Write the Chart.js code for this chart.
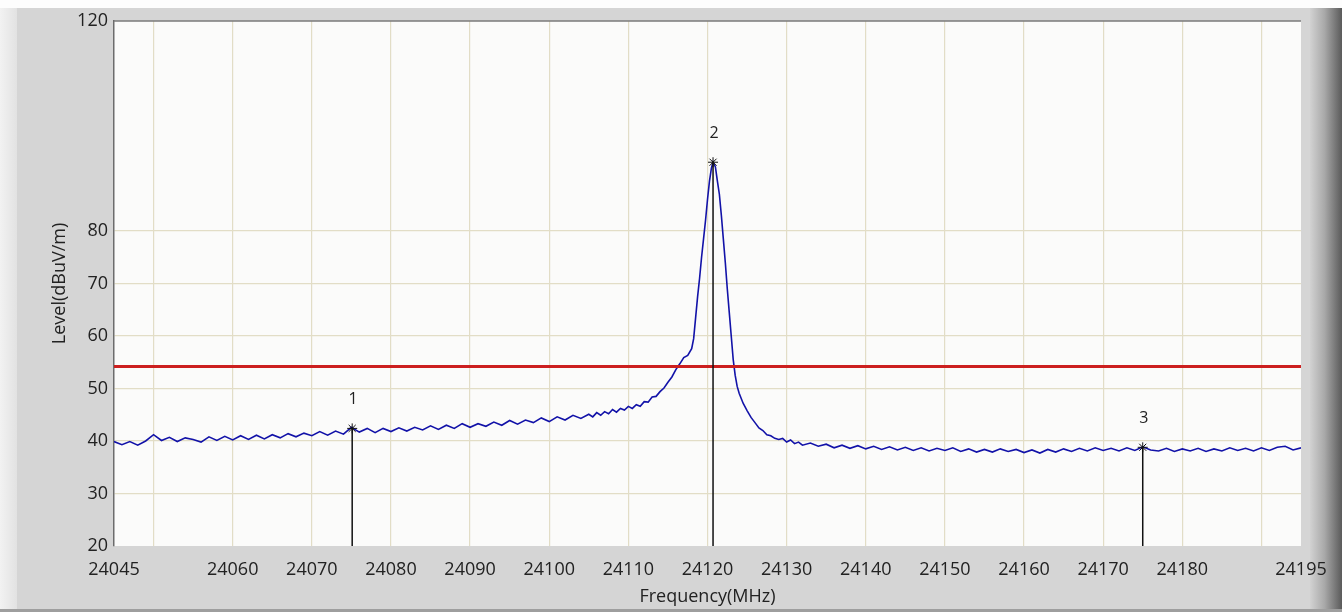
<!DOCTYPE html>
<html>
<head>
<meta charset="utf-8">
<script src="https://cdn.jsdelivr.net/npm/chart.js@4"></script>
<style>
  html, body { margin: 0; padding: 0; background: #d5d5d5; }
  #frame { position: relative; width: 1342px; height: 612px; background: #d5d5d5; overflow: hidden; }
  #frame .top { position: absolute; left: 0; top: 0; width: 1342px; height: 8px; background: #fdfdfd; }
  #frame .left { position: absolute; left: 0; top: 8px; width: 17px; height: 604px; background: linear-gradient(to right, #f2f2f2, #e2e2e2); }
  #frame .right { position: absolute; right: 0; top: 8px; width: 32px; height: 604px; background: linear-gradient(to right, #d2d2d2, #a9a9a9 45%, #5a5a5a); }
  #frame .bottom { position: absolute; left: 0; bottom: 0; width: 1342px; height: 3px; background: #9e9e9e; }
  #frame canvas { position: absolute; left: 0; top: 0; }
</style>
</head>
<body>
<div id="frame">
  <div class="top"></div>
  <div class="left"></div>
  <div class="right"></div>
  <div class="bottom"></div>
  <canvas id="spectrum" width="1342" height="612"></canvas>
</div>
<script>
const freqMHz = [
  24045, 24046, 24047, 24048, 24049, 24050, 24051, 24052, 24053, 24054,
  24055, 24056, 24057, 24058, 24059, 24060, 24061, 24062, 24063, 24064,
  24065, 24066, 24067, 24068, 24069, 24070, 24071, 24072, 24073, 24074,
  24075, 24076, 24077, 24078, 24079, 24080, 24081, 24082, 24083, 24084,
  24085, 24086, 24087, 24088, 24089, 24090, 24091, 24092, 24093, 24094,
  24095, 24096, 24097, 24098, 24099, 24100, 24101, 24102, 24103, 24104,
  24105, 24105.5, 24106, 24106.5, 24107, 24107.5, 24108, 24108.5, 24109, 24109.5,
  24110, 24110.5, 24111, 24111.5, 24112, 24112.5, 24113, 24113.5, 24114, 24114.5,
  24115, 24115.5, 24116, 24116.5, 24117, 24117.5, 24118, 24118.25, 24118.5, 24118.75,
  24119, 24119.25, 24119.5, 24119.75, 24120, 24120.25, 24120.5, 24120.7, 24121, 24121.25,
  24121.5, 24121.75, 24122, 24122.25, 24122.5, 24122.75, 24123, 24123.25, 24123.5, 24123.75,
  24124, 24124.5, 24125, 24125.5, 24126, 24126.5, 24127, 24127.5, 24128, 24128.5,
  24129, 24129.5, 24130, 24130.5, 24131, 24131.5, 24132, 24133, 24134, 24135,
  24136, 24137, 24138, 24139, 24140, 24141, 24142, 24143, 24144, 24145,
  24146, 24147, 24148, 24149, 24150, 24151, 24152, 24153, 24154, 24155,
  24156, 24157, 24158, 24159, 24160, 24161, 24162, 24163, 24164, 24165,
  24166, 24167, 24168, 24169, 24170, 24171, 24172, 24173, 24174, 24175,
  24176, 24177, 24178, 24179, 24180, 24181, 24182, 24183, 24184, 24185,
  24186, 24187, 24188, 24189, 24190, 24191, 24192, 24193, 24194, 24195
];
const levelDb = [
  39.9, 39.3, 39.9, 39.2, 40.0, 41.2, 40.1, 40.7, 39.9, 40.6,
  40.3, 39.8, 40.8, 40.1, 40.9, 40.2, 41.0, 40.3, 41.1, 40.4,
  41.2, 40.6, 41.4, 40.8, 41.5, 41.0, 41.8, 41.1, 41.9, 41.3,
  42.6, 41.7, 42.4, 41.6, 42.4, 41.8, 42.5, 41.9, 42.6, 42.1,
  42.9, 42.2, 43.0, 42.4, 43.3, 42.6, 43.3, 42.8, 43.6, 43.0,
  43.9, 43.2, 44.0, 43.5, 44.4, 43.7, 44.6, 44.0, 44.9, 44.3,
  45.1, 44.6, 45.4, 44.9, 45.6, 45.2, 46.0, 45.5, 46.2, 45.9,
  46.6, 46.2, 46.9, 46.6, 47.5, 47.4, 48.4, 48.5, 49.4, 50.1,
  51.2, 52.2, 53.6, 54.7, 55.9, 56.3, 57.6, 59.5, 63.5, 67.5,
  71.0, 75.0, 78.5, 82.0, 86.0, 89.5, 92.0, 93.1, 92.2, 89.5,
  87.0, 83.0, 78.5, 74.0, 69.0, 64.5, 60.0, 55.5, 52.5, 50.4,
  49.1, 47.2, 45.8, 44.5, 43.5, 42.5, 42.0, 41.2, 41.0, 40.5,
  40.3, 40.5, 39.8, 40.2, 39.5, 39.8, 39.2, 39.6, 39.0, 39.4,
  38.7, 39.2, 38.6, 39.1, 38.5, 39.0, 38.4, 38.9, 38.3, 38.8,
  38.2, 38.7, 38.1, 38.6, 38.2, 38.7, 38.0, 38.5, 37.9, 38.4,
  37.9, 38.5, 38.0, 38.4, 37.8, 38.3, 37.7, 38.4, 37.9, 38.5,
  38.0, 38.6, 38.1, 38.7, 38.2, 38.6, 38.1, 38.7, 38.2, 38.9,
  38.3, 38.1, 38.6, 38.0, 38.5, 38.1, 38.6, 38.0, 38.5, 38.1,
  38.7, 38.2, 38.6, 38.1, 38.7, 38.2, 38.8, 39.0, 38.3, 38.7
];

// Linea limite e marker
const limitDb = 54.2;
const markerNames = ['1', '2', '3'];
const markerFreq = [24075.1, 24120.7, 24175.0];
const markerLevel = [42.4, 93.1, 38.8];

// Tick degli assi
const xTicks = [24045, 24050, 24060, 24070, 24080, 24090, 24100, 24110, 24120,
  24130, 24140, 24150, 24160, 24170, 24180, 24190, 24195];
const xHiddenLabels = [24050, 24190];
const yTicks = [20, 30, 40, 50, 60, 70, 80, 120];

const X_MIN = 24045, X_MAX = 24195, Y_MIN = 20, Y_MAX = 120;

Chart.defaults.font.family = '"Open Sans", "Noto Sans", sans-serif';
Chart.defaults.font.size = 18;
Chart.defaults.color = '#222';

// Sfondo area grafico + bordo superiore
const plotBackground = {
  id: 'plotBackground',
  beforeDraw(chart) {
    const { ctx, chartArea: a } = chart;
    ctx.save();
    ctx.fillStyle = '#fbfbfa';
    ctx.fillRect(a.left, a.top, a.right - a.left, a.bottom - a.top);
    ctx.restore();
  },
  afterDraw(chart) {
    const { ctx, chartArea: a } = chart;
    ctx.save();
    ctx.strokeStyle = '#7a7a7a';
    ctx.lineWidth = 1.5;
    ctx.beginPath();
    ctx.moveTo(a.left, a.top);
    ctx.lineTo(a.right, a.top);
    ctx.stroke();
    ctx.restore();
  }
};

// Etichette numeriche dei marker
const markerLabels = {
  id: 'markerLabels',
  afterDatasetsDraw(chart) {
    const { ctx, scales } = chart;
    ctx.save();
    ctx.font = '16px "Open Sans", "Noto Sans", sans-serif';
    ctx.fillStyle = '#222';
    ctx.textAlign = 'center';
    ctx.textBaseline = 'middle';
    markerNames.forEach((name, i) => {
      const px = scales.x.getPixelForValue(markerFreq[i]);
      const py = scales.y.getPixelForValue(markerLevel[i]);
      ctx.fillText(name, px + 1, py - 29);
    });
    ctx.restore();
  }
};

const traceData = freqMHz.map((f, i) => ({ x: f, y: levelDb[i] }));

const markerDatasets = markerNames.map((name, i) => ({
  label: 'Marker ' + name,
  data: [{ x: markerFreq[i], y: markerLevel[i] }, { x: markerFreq[i], y: Y_MIN }],
  showLine: true,
  borderColor: '#111',
  borderWidth: 1.5,
  pointStyle: 'star',
  pointRadius: [5, 0],
  pointBorderColor: '#111',
  pointBorderWidth: 1,
  order: 0
}));

new Chart(document.getElementById('spectrum'), {
  type: 'scatter',
  data: {
    datasets: [
      {
        label: 'Level',
        data: traceData,
        showLine: true,
        borderColor: '#1212a8',
        borderWidth: 1.6,
        pointRadius: 0,
        tension: 0,
        order: 2
      },
      {
        label: 'Limit',
        data: [{ x: X_MIN, y: limitDb }, { x: X_MAX, y: limitDb }],
        showLine: true,
        borderColor: '#cc1f1f',
        borderWidth: 3,
        pointRadius: 0,
        order: 1
      },
      ...markerDatasets
    ]
  },
  options: {
    responsive: false,
    animation: false,
    layout: { padding: { top: 21, right: 41, left: 0, bottom: 0 } },
    plugins: {
      legend: { display: false },
      tooltip: { enabled: false }
    },
    scales: {
      x: {
        type: 'linear',
        min: X_MIN,
        max: X_MAX,
        afterBuildTicks(scale) {
          scale.ticks = xTicks.map(v => ({ value: v }));
        },
        afterFit(scale) { scale.height = 66; },
        ticks: {
          autoSkip: false,
          maxRotation: 0,
          minRotation: 0,
          padding: 13,
          color: '#222',
          callback: v => (xHiddenLabels.includes(v) ? '' : String(v))
        },
        grid: {
          drawTicks: false,
          color: ctx => (ctx.tick && (ctx.tick.value === X_MIN || ctx.tick.value === X_MAX) ? 'rgba(0,0,0,0)' : '#e2ddc6'),
          lineWidth: 1.2
        },
        border: { display: false },
        title: {
          display: true,
          text: 'Frequency(MHz)',
          font: { size: 18 },
          color: '#222',
          padding: { top: 0, bottom: 4 }
        }
      },
      y: {
        min: Y_MIN,
        max: Y_MAX,
        afterBuildTicks(scale) {
          scale.ticks = yTicks.map(v => ({ value: v }));
        },
        afterFit(scale) { scale.width = 114; },
        ticks: {
          autoSkip: false,
          padding: 6,
          color: '#222',
          callback: v => String(v)
        },
        grid: {
          drawTicks: false,
          color: ctx => (ctx.tick && (ctx.tick.value === Y_MIN || ctx.tick.value === Y_MAX) ? 'rgba(0,0,0,0)' : '#e2ddc6'),
          lineWidth: 1.2
        },
        border: { display: true, color: '#6c6c6c', width: 1.5 },
        title: {
          display: true,
          text: 'Level(dBuV/m)',
          font: { size: 18 },
          color: '#222',
          padding: { top: 49, bottom: 0 }
        }
      }
    }
  },
  plugins: [plotBackground, markerLabels]
});
</script>
</body>
</html>
